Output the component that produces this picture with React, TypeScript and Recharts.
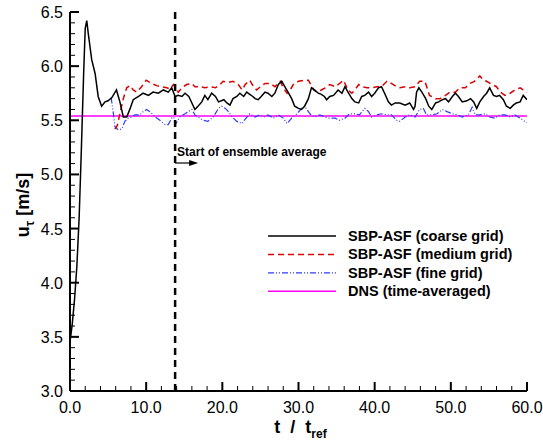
import { LineChart, Line, XAxis, YAxis, ReferenceLine, Legend } from 'recharts';

// coarse grid (black solid)
const coarseT = [0, 0.3, 0.6, 0.9, 1.2, 1.5, 1.8, 2.0, 2.2, 2.4, 2.85, 3.3, 3.7, 4.15, 4.6, 5.0, 5.5, 6.1, 6.55, 7.0, 7.45, 7.9, 8.3, 9.0, 9.6, 10.3, 10.9, 11.6, 12.25, 12.9, 13.35, 13.8, 14.2, 14.7, 15.1, 15.6, 16.0, 16.4, 16.8, 17.3, 17.7, 18.1, 18.6, 19.1, 19.5, 20.2, 20.6, 21.0, 21.4, 21.9, 22.3, 22.8, 23.2, 23.6, 24.0, 24.3, 24.7, 25.1, 25.6, 26.0, 26.5, 26.9, 27.35, 27.8, 28.2, 28.7, 29.1, 29.5, 30.0, 30.4, 30.8, 31.3, 31.7, 32.1, 32.6, 33.0, 33.4, 33.7, 34.1, 34.6, 35.2, 35.7, 36.1, 36.5, 37.0, 37.4, 37.9, 38.3, 38.7, 39.2, 39.6, 40.0, 40.5, 40.9, 41.3, 41.8, 42.2, 42.7, 43.3, 44.0, 44.6, 45.1, 45.3, 45.5, 45.8, 46.2, 46.7, 47.1, 47.5, 48.0, 48.4, 48.9, 49.3, 49.7, 50.2, 50.6, 51.0, 51.5, 52.1, 52.6, 53.0, 53.4, 53.8, 54.3, 54.7, 55.1, 55.6, 56.0, 56.4, 56.9, 57.3, 57.8, 58.2, 58.6, 59.1, 59.5, 60.0];
const coarseU = [3.45, 3.62, 3.85, 4.15, 4.6, 5.25, 5.95, 6.35, 6.42, 6.3, 6.06, 5.93, 5.72, 5.63, 5.67, 5.68, 5.71, 5.78, 5.67, 5.53, 5.53, 5.61, 5.69, 5.72, 5.75, 5.73, 5.76, 5.75, 5.78, 5.76, 5.8, 5.72, 5.73, 5.72, 5.75, 5.72, 5.66, 5.6, 5.63, 5.67, 5.73, 5.69, 5.75, 5.72, 5.67, 5.69, 5.66, 5.64, 5.7, 5.72, 5.75, 5.72, 5.76, 5.74, 5.72, 5.7, 5.69, 5.72, 5.76, 5.75, 5.72, 5.75, 5.83, 5.86, 5.81, 5.75, 5.7, 5.63, 5.61, 5.6, 5.63, 5.7, 5.8, 5.78, 5.75, 5.74, 5.72, 5.69, 5.72, 5.73, 5.78, 5.75, 5.81, 5.76, 5.7, 5.67, 5.66, 5.72, 5.73, 5.76, 5.72, 5.75, 5.8, 5.81, 5.75, 5.67, 5.64, 5.66, 5.66, 5.64, 5.66, 5.6, 5.63, 5.76, 5.8, 5.76, 5.7, 5.63, 5.6, 5.66, 5.67, 5.69, 5.7, 5.67, 5.72, 5.75, 5.72, 5.67, 5.68, 5.7, 5.67, 5.61, 5.67, 5.72, 5.75, 5.8, 5.73, 5.72, 5.73, 5.69, 5.63, 5.61, 5.64, 5.66, 5.67, 5.73, 5.69];

// medium grid (red dashed)
const mediumT = [5.9, 6.2, 6.55, 7.0, 7.45, 7.9, 8.3, 8.75, 9.4, 10.0, 10.7, 11.4, 12.0, 12.7, 13.1, 13.6, 14.2, 14.7, 15.3, 16.0, 16.4, 17.1, 17.7, 18.4, 19.1, 19.7, 20.1, 20.8, 21.4, 22.1, 22.6, 23.0, 23.6, 24.1, 24.5, 25.0, 25.6, 26.3, 26.9, 27.6, 28.0, 28.5, 28.9, 29.4, 30.0, 30.7, 31.3, 32.0, 32.4, 33.0, 33.5, 34.1, 34.8, 35.4, 35.9, 36.5, 37.0, 37.4, 37.9, 38.3, 39.0, 39.6, 40.3, 40.9, 41.6, 42.2, 42.9, 43.3, 44.0, 44.6, 45.3, 45.9, 46.6, 47.2, 48.0, 48.6, 49.3, 49.9, 50.6, 51.2, 51.9, 52.5, 53.1, 53.8, 54.3, 54.7, 55.4, 56.0, 56.5, 57.1, 57.8, 58.4, 59.1, 59.5, 60.0];
const mediumU = [5.42, 5.45, 5.56, 5.7, 5.8, 5.82, 5.78, 5.76, 5.81, 5.87, 5.84, 5.82, 5.81, 5.8, 5.79, 5.83, 5.76, 5.8, 5.83, 5.84, 5.81, 5.81, 5.8, 5.81, 5.8, 5.83, 5.86, 5.85, 5.86, 5.83, 5.78, 5.83, 5.87, 5.81, 5.78, 5.81, 5.84, 5.84, 5.81, 5.86, 5.8, 5.75, 5.78, 5.84, 5.86, 5.87, 5.87, 5.78, 5.76, 5.78, 5.8, 5.83, 5.81, 5.84, 5.87, 5.78, 5.75, 5.78, 5.83, 5.81, 5.8, 5.8, 5.81, 5.81, 5.86, 5.84, 5.81, 5.8, 5.81, 5.8, 5.81, 5.86, 5.86, 5.73, 5.7, 5.7, 5.73, 5.76, 5.76, 5.8, 5.8, 5.84, 5.86, 5.91, 5.87, 5.86, 5.83, 5.81, 5.76, 5.73, 5.75, 5.78, 5.8, 5.78, 5.76];

// fine grid (blue dash-dot-dot)
const fineT = [5.4, 5.7, 5.9, 6.35, 6.8, 7.2, 7.65, 8.1, 8.5, 9.2, 9.6, 10.05, 10.5, 11.2, 11.8, 12.5, 12.9, 13.35, 13.6, 13.9, 14.4, 15.1, 15.5, 16.0, 16.4, 16.8, 17.5, 18.1, 18.8, 19.5, 19.9, 20.4, 20.8, 21.3, 21.9, 22.6, 23.0, 23.6, 24.3, 24.9, 25.4, 26.0, 26.7, 27.35, 28.0, 28.5, 29.1, 29.8, 30.4, 30.8, 31.5, 32.1, 32.8, 33.5, 34.1, 34.8, 35.4, 36.1, 36.7, 37.4, 38.0, 38.7, 39.2, 39.6, 40.3, 40.9, 41.6, 42.2, 42.9, 43.3, 44.0, 44.6, 45.3, 45.9, 46.4, 46.8, 47.5, 48.2, 48.9, 49.5, 50.2, 50.9, 51.5, 52.3, 52.8, 53.2, 53.8, 54.5, 55.1, 55.8, 56.4, 57.1, 57.8, 58.4, 59.1, 59.7, 60.0];
const fineU = [5.71, 5.56, 5.44, 5.41, 5.42, 5.49, 5.52, 5.53, 5.55, 5.55, 5.58, 5.6, 5.58, 5.53, 5.5, 5.46, 5.46, 5.52, 5.53, 5.47, 5.53, 5.56, 5.58, 5.6, 5.55, 5.53, 5.5, 5.49, 5.53, 5.61, 5.63, 5.61, 5.58, 5.53, 5.49, 5.47, 5.51, 5.56, 5.53, 5.55, 5.53, 5.55, 5.52, 5.55, 5.52, 5.47, 5.52, 5.56, 5.61, 5.63, 5.56, 5.53, 5.55, 5.53, 5.52, 5.52, 5.5, 5.52, 5.56, 5.56, 5.55, 5.61, 5.58, 5.53, 5.55, 5.56, 5.55, 5.55, 5.5, 5.49, 5.53, 5.55, 5.53, 5.6, 5.61, 5.55, 5.55, 5.56, 5.6, 5.58, 5.56, 5.55, 5.53, 5.55, 5.62, 5.55, 5.55, 5.56, 5.53, 5.52, 5.55, 5.55, 5.53, 5.55, 5.52, 5.49, 5.48];

// DNS time-averaged value
const dnsT = [0, 60];
const dnsU = [5.54, 5.54];

const ensembleStart = 13.8;

const xTicks = [0, 2, 4, 6, 8, 10, 12, 14, 16, 18, 20, 22, 24, 26, 28, 30, 32, 34, 36, 38, 40, 42, 44, 46, 48, 50, 52, 54, 56, 58, 60];
const xMajor = [0, 10, 20, 30, 40, 50, 60];
const xLabels = ["0.0", "10.0", "20.0", "30.0", "40.0", "50.0", "60.0"];
const yTicks = [3.0, 3.1, 3.2, 3.3, 3.4, 3.5, 3.6, 3.7, 3.8, 3.9, 4.0, 4.1, 4.2, 4.3, 4.4, 4.5, 4.6, 4.7, 4.8, 4.9, 5.0, 5.1, 5.2, 5.3, 5.4, 5.5, 5.6, 5.7, 5.8, 5.9, 6.0, 6.1, 6.2, 6.3, 6.4, 6.5];
const yMajor = [3.0, 3.5, 4.0, 4.5, 5.0, 5.5, 6.0, 6.5];
const yLabels = ["3.0", "3.5", "4.0", "4.5", "5.0", "5.5", "6.0", "6.5"];

const seriesNames = ["SBP-ASF (coarse grid)", "SBP-ASF (medium grid)", "SBP-ASF (fine grid)", "DNS (time-averaged)"];
const seriesColors = ["#000000", "#dd0000", "#2f3cff", "#ff00ff"];
const seriesDash = ["", "6 4", "6 2 1 2 1 2", ""];
const seriesWidth = [1.5, 1.5, 1.2, 1.5];

const FONT = "'Liberation Sans', Arial, Helvetica, sans-serif";

const rows = (t: number[], u: number[]) => t.map((v, i) => ({ t: v, u: u[i] }));

const findIdx = (arr: number[], v: number) => arr.findIndex((a) => Math.abs(a - v) < 1e-6);

function XTick(props: any) {
  const { x, y, payload } = props;
  const idx = findIdx(xMajor, payload.value);
  const major = idx >= 0;
  return (
    <g>
      <line x1={x} x2={x} y1={y} y2={y - (major ? 9 : 5)} stroke="#000" strokeWidth={major ? 2 : 1} />
      {major && (
        <text x={x} y={y + 22} textAnchor="middle" fontSize={16} fontFamily={FONT} fill="#000">
          {xLabels[idx]}
        </text>
      )}
    </g>
  );
}

function YTick(props: any) {
  const { x, y, payload } = props;
  const idx = findIdx(yMajor, payload.value);
  const major = idx >= 0;
  return (
    <g>
      <line x1={x} x2={x + (major ? 9 : 5)} y1={y} y2={y} stroke="#000" strokeWidth={major ? 2 : 1} />
      {major && (
        <text x={x - 7} y={y + 6} textAnchor="end" fontSize={16} fontFamily={FONT} fill="#000">
          {yLabels[idx]}
        </text>
      )}
    </g>
  );
}

function renderAnnot(props: any) {
  const vb = props.viewBox || {};
  const x = vb.x ?? 0;
  const top = vb.y ?? 0;
  const ay = top + 151;
  return (
    <g>
      <text x={x + 2} y={top + 144} fontSize={12} fontWeight="bold" fontFamily={FONT} fill="#000">
        Start of ensemble average
      </text>
      <line x1={x} x2={x + 16} y1={ay} y2={ay} stroke="#000" strokeWidth={1.2} />
      <polygon points={`${x + 23},${ay} ${x + 14},${ay - 3} ${x + 14},${ay + 3}`} fill="#000" />
    </g>
  );
}

function renderLegend() {
  return (
    <svg width={270} height={80} style={{ display: 'block' }}>
      {seriesNames.map((name, i) => {
        const cy = 10 + i * 18.4;
        return (
          <g key={name}>
            <line x1={3} x2={71} y1={cy} y2={cy} stroke={seriesColors[i]} strokeWidth={seriesWidth[i]}
              strokeDasharray={seriesDash[i] || undefined} />
            <text x={83} y={cy + 5} fontSize={14.5} fontWeight="bold" fontFamily={FONT} fill="#000">
              {name}
            </text>
          </g>
        );
      })}
    </svg>
  );
}

function XTitle(props: any) {
  const vb = props.viewBox || {};
  const cx = (vb.x ?? 0) + (vb.width ?? 0) / 2 + 2;
  return (
    <text x={cx} y={433} textAnchor="middle" fontSize={18} fontWeight="bold" fontFamily={FONT} fill="#000">
      {"t\u00a0\u00a0/\u00a0\u00a0t"}
      <tspan fontSize={12} dy={5}>ref</tspan>
    </text>
  );
}

function YTitle() {
  return (
    <text x={0} y={0} transform="translate(29,205) rotate(-90)" textAnchor="middle" fontSize={18}
      fontWeight="bold" fontFamily={FONT} fill="#000">
      u<tspan fontSize={12} dy={5}>τ</tspan>
      <tspan dy={-5}>{"\u00a0[m/s]"}</tspan>
    </text>
  );
}

export default function App() {
  return (
    <div style={{ position: 'absolute', left: 0, top: 0, width: 543, height: 440, background: '#fff' }}>
      <LineChart width={543} height={440} margin={{ top: 12, right: 16, bottom: 0, left: 0 }}>
        <XAxis type="number" dataKey="t" domain={[0, 60]} ticks={xTicks} interval={0} height={49}
          allowDataOverflow tick={<XTick />} tickLine={false} tickSize={0} tickMargin={0}
          axisLine={{ stroke: '#000', strokeWidth: 2 }} label={{ content: XTitle }} />
        <YAxis type="number" dataKey="u" domain={[3, 6.5]} ticks={yTicks} interval={0} width={70}
          allowDataOverflow tick={<YTick />} tickLine={false} tickSize={0} tickMargin={0}
          axisLine={{ stroke: '#000', strokeWidth: 2 }} label={{ content: YTitle }} />
        <Legend content={renderLegend} layout="horizontal" verticalAlign="middle" align="center"
          wrapperStyle={{ left: 265, top: 226, width: 270, height: 80 }} />
        <Line data={rows(dnsT, dnsU)} dataKey="u" name={seriesNames[3]} stroke={seriesColors[3]}
          strokeWidth={seriesWidth[3]} dot={false} isAnimationActive={false} />
        <Line data={rows(fineT, fineU)} dataKey="u" name={seriesNames[2]} stroke={seriesColors[2]}
          strokeWidth={seriesWidth[2]} strokeDasharray={seriesDash[2]} dot={false} isAnimationActive={false} />
        <Line data={rows(mediumT, mediumU)} dataKey="u" name={seriesNames[1]} stroke={seriesColors[1]}
          strokeWidth={seriesWidth[1]} strokeDasharray={seriesDash[1]} dot={false} isAnimationActive={false} />
        <Line data={rows(coarseT, coarseU)} dataKey="u" name={seriesNames[0]} stroke={seriesColors[0]}
          strokeWidth={seriesWidth[0]} dot={false} isAnimationActive={false} />
        <ReferenceLine x={ensembleStart} stroke="#000" strokeWidth={2.5} strokeDasharray="7 5" label={renderAnnot} />
      </LineChart>
    </div>
  );
}
